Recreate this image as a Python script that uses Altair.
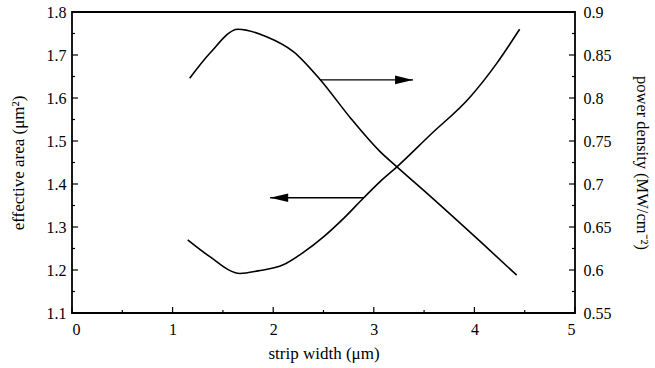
import altair as alt
import pandas as pd

# Effective area curve (left axis)
area_x = [1.15, 1.37, 1.67, 1.85, 2.1, 2.3, 2.5, 2.7, 2.9, 3.06, 3.23, 3.56, 3.96, 4.22, 4.45]
area_y = [1.27, 1.231, 1.192, 1.198, 1.212, 1.241, 1.277, 1.32, 1.368, 1.405, 1.44, 1.514, 1.603, 1.68, 1.76]

# Power density curve (right axis)
power_x = [1.17, 1.37, 1.65, 1.94, 2.2, 2.47, 2.76, 3.06, 3.23, 3.56, 4.06, 4.42]
power_y = [0.823, 0.852, 0.880, 0.871, 0.854, 0.821, 0.778, 0.738, 0.720, 0.686, 0.633, 0.594]

# Arrows (in left-axis units): start on a curve, tip pointing to its axis
arrow_start_x = [2.47, 2.9]
arrow_tip_x = [3.39, 1.97]
arrow_y = [1.642, 1.368]
arrow_dir = ["right", "left"]

# Tick values
x_major = [0, 1, 2, 3, 4, 5]
x_minor = [0.5, 1.5, 2.5, 3.5, 4.5]
left_major = [1.1, 1.2, 1.3, 1.4, 1.5, 1.6, 1.7, 1.8]
left_minor = [1.15, 1.25, 1.35, 1.45, 1.55, 1.65, 1.75]
right_major = [0.55, 0.6, 0.65, 0.7, 0.75, 0.8, 0.85, 0.9]
right_minor = [0.575, 0.625, 0.675, 0.725, 0.775, 0.825, 0.875]

W, H = 503, 301
FONT = "Liberation Serif"

xs = alt.Scale(domain=[0, 5], nice=False, zero=False)
yl = alt.Scale(domain=[1.1, 1.8], nice=False, zero=False)
yr = alt.Scale(domain=[0.55, 0.9], nice=False, zero=False)

x_axis = alt.Axis(values=x_major, format="d", ticks=False, domain=False, grid=False,
                  labelPadding=8, title="strip width (μm)", titlePadding=8)
left_axis = alt.Axis(values=left_major, format=".1f", ticks=False, domain=False, grid=False,
                     labelPadding=6, title="effective area (μm²)", titlePadding=19, orient="left")
right_axis = alt.Axis(values=right_major, format="~g", ticks=False, domain=False, grid=False,
                      labelPadding=8, title="power density (MW/cm⁻²)", titlePadding=22, orient="right",
                      titleFontSize=16.5)

area_df = pd.DataFrame({"x": area_x, "y": area_y})
power_df = pd.DataFrame({"x": power_x, "y": power_y})
arrow_df = pd.DataFrame({"x0": arrow_start_x, "x1": arrow_tip_x, "y": arrow_y, "dir": arrow_dir})


def X(field):
    return alt.X(field, scale=xs, axis=x_axis, title="strip width (μm)")


def YL(field):
    return alt.Y(field, scale=yl, axis=left_axis, title="effective area (μm²)")


def YR(field):
    return alt.Y(field, scale=yr, axis=right_axis, title="power density (MW/cm⁻²)")


area_line = alt.Chart(area_df).mark_line(color="black", strokeWidth=1.6, interpolate="monotone").encode(
    x=X("x:Q"), y=YL("y:Q"))

arrow_lines = alt.Chart(arrow_df).mark_rule(color="black", strokeWidth=1.3).encode(
    x=X("x0:Q"), x2="x1:Q", y=YL("y:Q"))

head_right = alt.Chart(arrow_df[arrow_df["dir"] == "right"]).mark_point(
    shape="M0,0L-1,-0.24L-1,0.24Z", size=1296, filled=True, color="black", opacity=1
).encode(x=X("x1:Q"), y=YL("y:Q"))

head_left = alt.Chart(arrow_df[arrow_df["dir"] == "left"]).mark_point(
    shape="M0,0L1,-0.24L1,0.24Z", size=1296, filled=True, color="black", opacity=1
).encode(x=X("x1:Q"), y=YL("y:Q"))


# Inward tick marks
def left_ticks(vals, length):
    return alt.Chart(pd.DataFrame({"v": vals})).mark_rule(color="black", strokeWidth=1.2).encode(
        y=YL("v:Q"), x=alt.value(0), x2=alt.value(length))


def right_ticks(vals, length):
    return alt.Chart(pd.DataFrame({"v": vals})).mark_rule(color="black", strokeWidth=1.2).encode(
        y=YR("v:Q"), x=alt.value(W), x2=alt.value(W - length))


def bottom_ticks(vals, length):
    return alt.Chart(pd.DataFrame({"v": vals})).mark_rule(color="black", strokeWidth=1.2).encode(
        x=X("v:Q"), y=alt.value(H), y2=alt.value(H - length))


left_layer = alt.layer(
    area_line, arrow_lines, head_right, head_left,
    left_ticks(left_major, 6), left_ticks(left_minor, 3),
    bottom_ticks(x_major, 6), bottom_ticks(x_minor, 3),
)

power_line = alt.Chart(power_df).mark_line(color="black", strokeWidth=1.6, interpolate="monotone").encode(
    x=X("x:Q"), y=YR("y:Q"))

right_layer = alt.layer(power_line, right_ticks(right_major, 6), right_ticks(right_minor, 3))

chart = (
    alt.layer(left_layer, right_layer)
    .resolve_scale(y="independent")
    .properties(width=W, height=H, autosize=alt.AutoSizeParams(type="none"),
                padding={"left": 72, "top": 12, "right": 80, "bottom": 55},
                background="white")
    .configure_view(stroke="black", strokeWidth=1.8)
    .configure_axis(labelFont=FONT, titleFont=FONT, labelFontSize=16, titleFontSize=17,
                    labelColor="black", titleColor="black", titleFontWeight="normal")
)

chart.save("out.html", embed_options={"renderer": "svg", "actions": False})
